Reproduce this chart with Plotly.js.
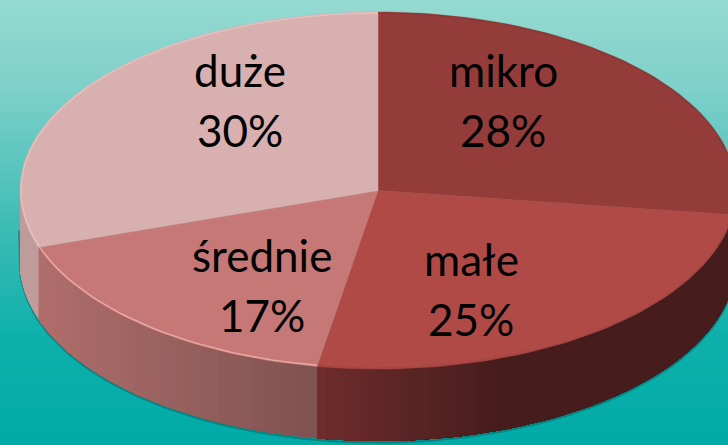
<!DOCTYPE html>
<html><head><meta charset="utf-8">
<script src="https://cdn.plot.ly/plotly-3.0.1.min.js"></script>
<style>
html,body{margin:0;padding:0;width:728px;height:445px;overflow:hidden;
background:linear-gradient(180deg,#95dad1 0%,#7ed0ca 20%,#3fbdb5 50%,#0fb0ab 75%,#00aba7 100%);}
#chart{width:728px;height:445px;}
</style></head><body><div id="chart"></div>
<script>
// data
const categories = ['mikro','małe','średnie','duże'];
const shares = [28,25,17,30];
// styling
const faceColors = ['#943c3a','#b04a47','#c67876','#d9b0b0'];
const wallLeft  = ['#461c1c','#6f2c2c','#b06e6b','#bf9c9b'];
const wallRight = ['#461c1c','#461c1c','#7f5250','#bf9c9b'];
const wallFade  = [1,185,1,1];           // px over which the wall colour fades
const rimColors = ['#8a3735','#a54543','#e9a6a2','#e6c1bf'];
const rimWidth  = [1.2,1.2,1.6,1.3];
const tilt      = [0,-3,-1,-0.5,0];      // perspective shift of the slice edges, degrees
const labelPos  = [[503,70,130],[471,259,319],[262,255,315],[240,70,130]];
const cx=378, cy=190.5, rx=358, ry=178.5, depth=72;

const px = a => cx + rx*Math.sin(a*Math.PI/180);
const py = a => cy - ry*Math.cos(a*Math.PI/180);
const hex = c => [1,3,5].map(i=>parseInt(c.substr(i,2),16));
const mix = (c1,c2,t)=>{const a=hex(c1),b=hex(c2);return 'rgb('+a.map((v,i)=>Math.round(v+(b[i]-v)*t)).join(',')+')';};
const range=(a,b,n)=>Array.from({length:n+1},(_,i)=>a+(b-a)*i/n);

const total = shares.reduce((a,b)=>a+b,0);
const bounds=[0]; shares.forEach((v,i)=>bounds.push(bounds[i]+v/total*360));
const edges=bounds.map((b,i)=>b+tilt[i]);

const traces=[];
// soft shadow under the wall
const shadowA=range(88,270,120);
traces.push({x:shadowA.map(px).concat([px(270)-1]),y:shadowA.map(a=>py(a)+depth+1.5).concat([cy+40]),mode:'lines',
  line:{color:'rgba(0,90,90,0.45)',width:2.2},hoverinfo:'skip',showlegend:false});

// side wall, painted right to left in overlapping strips so no seams show
shares.forEach((v,i)=>{
  const a0=Math.max(edges[i],90), a1=Math.min(edges[i+1],270);
  if(a1<=a0) return;
  const n=Math.max(2,Math.round((a1-a0)/1.5));
  const xRightEnd=px(a0), xLeftEnd=px(a1);
  for(let k=0;k<n;k++){
    const s=a0+(a1-a0)*k/n, e=a1;
    const xm=px(s+(a1-a0)/(2*n));
    const span=(i===1)?wallFade[i]:(xRightEnd-xLeftEnd);
    const t=Math.min(1,(xm-xLeftEnd)/span);
    const col=mix(wallLeft[i],wallRight[i],t);
    const arc=range(s,e,Math.max(2,Math.ceil((e-s)/2)));
    traces.push({
      x:arc.map(px).concat(arc.map(px).reverse()),
      y:arc.map(py).concat(arc.map(a=>py(a)+depth).reverse()),
      mode:'lines',fill:'toself',fillcolor:col,line:{color:col,width:0},
      hoverinfo:'skip',showlegend:false});
  }
});

// top face sectors
shares.forEach((v,i)=>{
  const arc=range(edges[i],edges[i+1],Math.ceil(v*2));
  traces.push({
    x:[cx].concat(arc.map(px),[cx]),
    y:[cy].concat(arc.map(py),[cy]),
    mode:'lines',fill:'toself',fillcolor:faceColors[i],
    line:{color:faceColors[i],width:0.5},
    name:categories[i],text:categories[i]+' '+v+'%',hoverinfo:'text',showlegend:false});
});
// rim highlight
shares.forEach((v,i)=>{
  const arc=range(edges[i],edges[i+1],Math.ceil(v*2));
  traces.push({x:arc.map(a=>cx+(rx-1)*Math.sin(a*Math.PI/180)),
    y:arc.map(a=>cy-(ry-1)*Math.cos(a*Math.PI/180)),mode:'lines',
    line:{color:rimColors[i],width:rimWidth[i]},hoverinfo:'skip',showlegend:false});
});

const font={family:'Lato, "Open Sans", sans-serif',size:44,color:'#000000'};
const annotations=[];
shares.forEach((v,i)=>{
  annotations.push({x:labelPos[i][0],y:labelPos[i][1],text:categories[i],showarrow:false,font,xanchor:'center',yanchor:'middle',xref:'x',yref:'y'});
  annotations.push({x:labelPos[i][0],y:labelPos[i][2],text:v+'%',showarrow:false,font,xanchor:'center',yanchor:'middle',xref:'x',yref:'y'});
});

Plotly.newPlot('chart',traces,{
  width:728,height:445,margin:{l:0,r:0,t:0,b:0},
  paper_bgcolor:'rgba(0,0,0,0)',plot_bgcolor:'rgba(0,0,0,0)',
  xaxis:{range:[0,728],visible:false,fixedrange:true},
  yaxis:{range:[445,0],visible:false,fixedrange:true},
  showlegend:false,annotations
},{displayModeBar:false,staticPlot:true});
</script></body></html>
